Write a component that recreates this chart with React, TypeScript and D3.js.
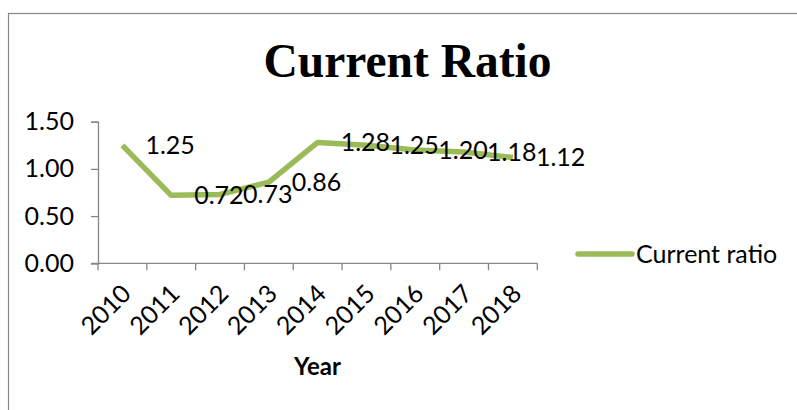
import { useEffect, useRef } from "react";
import * as d3 from "d3";

const years = ["2010", "2011", "2012", "2013", "2014", "2015", "2016", "2017", "2018"];
const currentRatio = [1.25, 0.72, 0.73, 0.86, 1.28, 1.25, 1.2, 1.18, 1.12];
const yTicks = [0, 0.5, 1.0, 1.5];
const seriesName = "Current ratio";

const W = 797;
const H = 410;
const FONT = "Lato, 'Open Sans', sans-serif";
const FS = 25;
const GREEN = "#9BBB59";
const AXIS = "#868686";

export default function App() {
  const svgRef = useRef<SVGSVGElement>(null);

  useEffect(() => {
    const svg = d3.select(svgRef.current);
    svg.selectAll("*").remove();

    // chart frame (runs off the right and bottom edges)
    svg
      .append("rect")
      .attr("x", 8.5)
      .attr("y", 13.5)
      .attr("width", W + 20)
      .attr("height", H + 20)
      .attr("fill", "white")
      .attr("stroke", "#888")
      .attr("stroke-width", 1.2);

    const x = d3.scaleBand().domain(years).range([98, 537.3]);
    const y = d3.scaleLinear().domain([0, 1.5]).range([263.3, 121.7]);

    // title
    svg
      .append("text")
      .attr("x", 407.5)
      .attr("y", 77)
      .attr("text-anchor", "middle")
      .attr("font-family", "'Liberation Serif', 'Times New Roman', serif")
      .attr("font-weight", "bold")
      .attr("font-size", 47.5)
      .text("Current Ratio");

    // y axis
    const yAxis = svg
      .append("g")
      .attr("transform", `translate(${x.range()[0]},0)`)
      .call(
        d3
          .axisLeft(y)
          .tickValues(yTicks)
          .tickSize(7)
          .tickPadding(17)
          .tickFormat((d) => d3.format(".2f")(d as number))
      );
    yAxis.select(".domain").attr("stroke", AXIS).attr("stroke-width", 1.3);
    yAxis.selectAll(".tick line").attr("stroke", AXIS).attr("stroke-width", 1.3);
    yAxis
      .selectAll(".tick text")
      .attr("font-family", FONT)
      .attr("font-size", FS)
      .attr("fill", "#000");

    // x axis with ticks on band edges
    const xg = svg.append("g").attr("transform", `translate(0,${y(0)})`);
    xg.append("line")
      .attr("x1", x.range()[0] - 7)
      .attr("x2", x.range()[1])
      .attr("stroke", AXIS)
      .attr("stroke-width", 1.3);
    const edges = years.map((d) => x(d) as number).concat([x.range()[1]]);
    xg.selectAll("line.tk")
      .data(edges)
      .join("line")
      .attr("class", "tk")
      .attr("x1", (d) => d)
      .attr("x2", (d) => d)
      .attr("y1", 0)
      .attr("y2", 7)
      .attr("stroke", AXIS)
      .attr("stroke-width", 1.3);
    xg.selectAll("text.yr")
      .data(years)
      .join("text")
      .attr("class", "yr")
      .attr("text-anchor", "end")
      .attr("font-family", FONT)
      .attr("font-size", FS)
      .attr(
        "transform",
        (d) => `translate(${(x(d) as number) + x.bandwidth() / 2 + 10},${32}) rotate(-45)`
      )
      .text((d) => d);

    // x axis title
    svg
      .append("text")
      .attr("x", 317.5)
      .attr("y", 375)
      .attr("text-anchor", "middle")
      .attr("font-family", FONT)
      .attr("font-weight", "bold")
      .attr("font-size", 24)
      .text("Year");

    // line
    const line = d3
      .line<number>()
      .x((_, i) => (x(years[i]) as number) + x.bandwidth() / 2)
      .y((d) => y(d));
    svg
      .append("path")
      .datum(currentRatio)
      .attr("d", line)
      .attr("fill", "none")
      .attr("stroke", GREEN)
      .attr("stroke-width", 5.5)
      .attr("stroke-linejoin", "round");

    // data labels to the right of each point
    svg
      .selectAll("text.lbl")
      .data(currentRatio)
      .join("text")
      .attr("class", "lbl")
      .attr("x", (_, i) => (x(years[i]) as number) + x.bandwidth() / 2 + 23)
      .attr("y", (d) => y(d))
      .attr("dy", "0.35em")
      .attr("font-family", FONT)
      .attr("font-size", FS)
      .text((d) => d.toFixed(2));

    // legend
    const lg = svg.append("g").attr("transform", "translate(578,254)");
    lg.append("line")
      .attr("x1", 0)
      .attr("x2", 54)
      .attr("stroke", GREEN)
      .attr("stroke-width", 5.5)
      .attr("stroke-linecap", "round");
    lg.append("text")
      .attr("x", 58)
      .attr("y", 0)
      .attr("dy", "0.35em")
      .attr("font-family", FONT)
      .attr("font-size", FS)
      .text(seriesName);
  }, []);

  return (
    <svg
      ref={svgRef}
      width={W}
      height={H}
      style={{ position: "absolute", left: 0, top: 0, background: "white" }}
    />
  );
}
